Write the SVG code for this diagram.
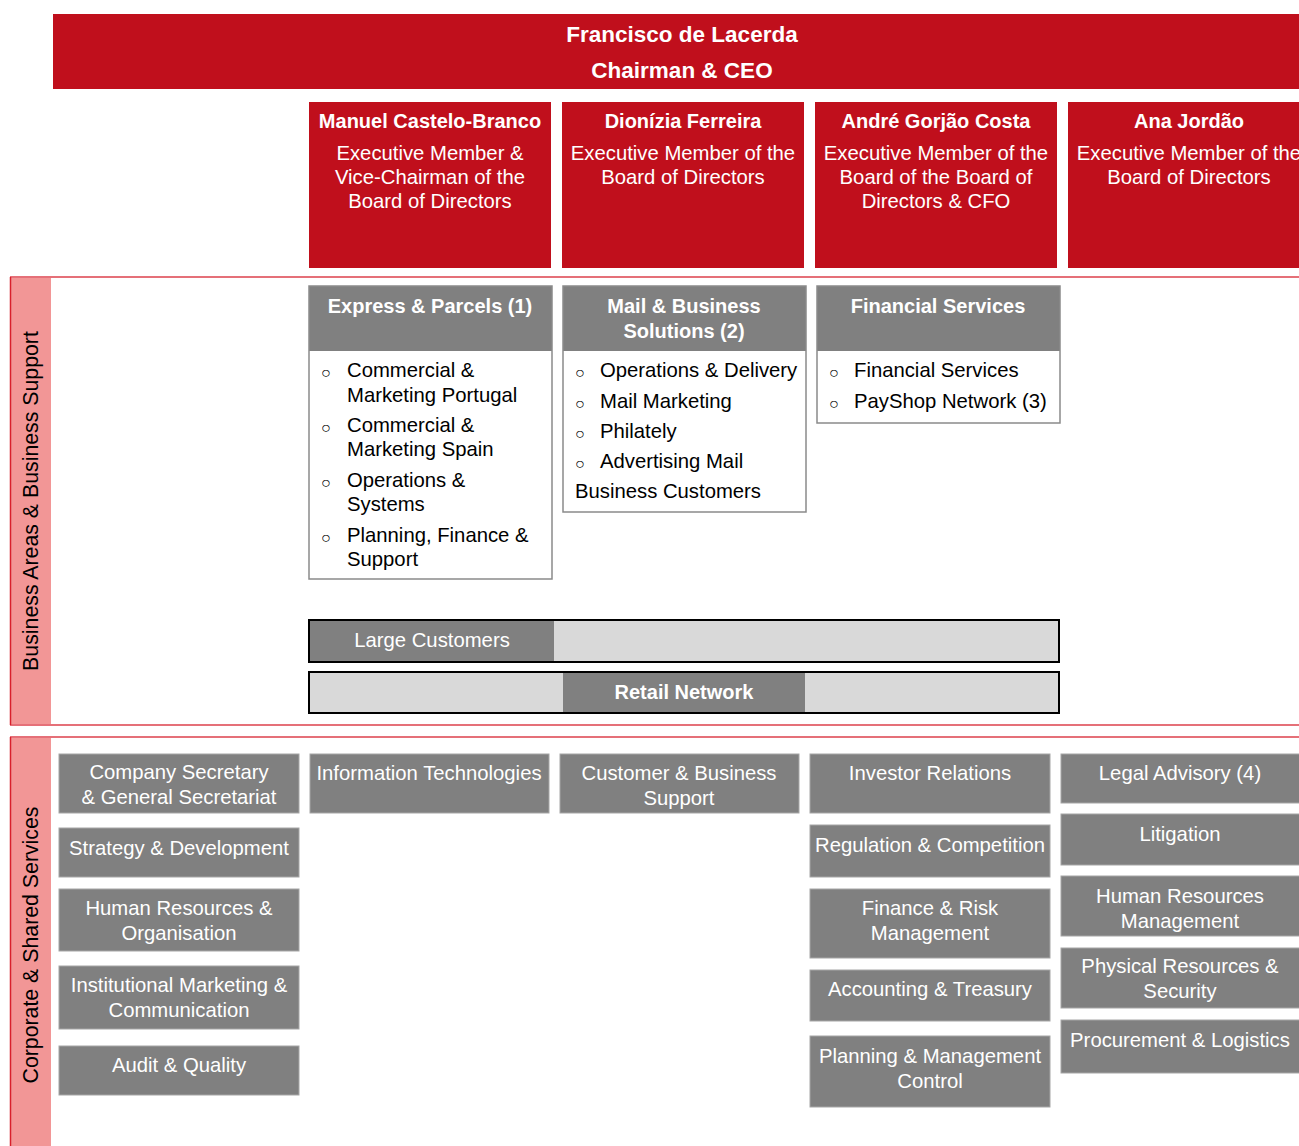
<svg xmlns="http://www.w3.org/2000/svg" width="1299" height="1146" viewBox="0 0 1299 1146">
<style>
text{font-family:"Liberation Sans",Arial,sans-serif;}
.red{fill:#C00F1C;}
.wt{fill:#fff;font-size:20.3px;text-anchor:middle;}
.wb{fill:#fff;font-size:20px;font-weight:bold;text-anchor:middle;}
.bk{fill:#000;font-size:20.3px;}
.bul{fill:#000;font-size:16px;}
.hdr{fill:#808080;}
.box{fill:none;stroke:#8a8a8a;stroke-width:1.5;}
.gb{fill:#808080;stroke:#a6a6a6;stroke-width:1;}
.sec{fill:none;stroke:#E57078;stroke-width:2;}
.strip{fill:#F29696;}
.bar{fill:#D9D9D9;stroke:#000;stroke-width:2;}
</style>

<g id="sections">
  <rect class="strip" x="10" y="277" width="41" height="448"/>
  <line class="sec" x1="10" y1="277" x2="1299" y2="277"/>
  <line class="sec" x1="10" y1="725" x2="1299" y2="725"/>
  <line x1="10.5" y1="277" x2="10.5" y2="725" stroke="#D8202C" stroke-width="1.5"/>
  <text x="32" y="501" transform="rotate(-90 32 501)" text-anchor="middle" dominant-baseline="middle" style="font-size:21.3px;fill:#000">Business Areas &amp; Business Support</text>

  <rect class="strip" x="10" y="737" width="41" height="409"/>
  <line class="sec" x1="10" y1="737" x2="1299" y2="737"/>
  <line x1="10.5" y1="737" x2="10.5" y2="1146" stroke="#D8202C" stroke-width="1.5"/>
  <text x="32" y="945" transform="rotate(-90 32 945)" text-anchor="middle" dominant-baseline="middle" style="font-size:21.3px;fill:#000">Corporate &amp; Shared Services</text>
</g>

<g id="ceo">
  <rect class="red" x="53" y="14" width="1246" height="75"/>
  <text class="wb" x="682" y="42" style="font-size:22.5px">Francisco de Lacerda</text>
  <text class="wb" x="682" y="78" style="font-size:22.5px">Chairman &amp; CEO</text>
</g>

<g id="exec1">
  <rect class="red" x="309" y="102" width="242" height="166"/>
  <text class="wb" x="430" y="128">Manuel Castelo-Branco</text>
  <text class="wt" x="430" y="160">Executive Member &amp;</text>
  <text class="wt" x="430" y="184">Vice-Chairman of the</text>
  <text class="wt" x="430" y="208">Board of Directors</text>
</g>
<g id="exec2">
  <rect class="red" x="562" y="102" width="242" height="166"/>
  <text class="wb" x="683" y="128">Dionízia Ferreira</text>
  <text class="wt" x="683" y="160">Executive Member of the</text>
  <text class="wt" x="683" y="184">Board of Directors</text>
</g>
<g id="exec3">
  <rect class="red" x="815" y="102" width="242" height="166"/>
  <text class="wb" x="936" y="128">André Gorjão Costa</text>
  <text class="wt" x="936" y="160">Executive Member of the</text>
  <text class="wt" x="936" y="184">Board of the Board of</text>
  <text class="wt" x="936" y="208">Directors &amp; CFO</text>
</g>
<g id="exec4">
  <rect class="red" x="1068" y="102" width="242" height="166"/>
  <text class="wb" x="1189" y="128">Ana Jordão</text>
  <text class="wt" x="1189" y="160">Executive Member of the</text>
  <text class="wt" x="1189" y="184">Board of Directors</text>
</g>

<g id="express">
  <rect x="309" y="286" width="243" height="293" fill="#fff"/>
  <rect class="hdr" x="309" y="286" width="243" height="65"/>
  <rect class="box" x="309" y="286" width="243" height="293"/>
  <text class="wb" x="430" y="313">Express &amp; Parcels (1)</text>
  <text class="bul" x="321" y="378">○</text><text class="bk" x="347" y="377">Commercial &amp;</text>
  <text class="bk" x="347" y="402">Marketing Portugal</text>
  <text class="bul" x="321" y="433">○</text><text class="bk" x="347" y="432">Commercial &amp;</text>
  <text class="bk" x="347" y="456">Marketing Spain</text>
  <text class="bul" x="321" y="488">○</text><text class="bk" x="347" y="487">Operations &amp;</text>
  <text class="bk" x="347" y="511">Systems</text>
  <text class="bul" x="321" y="543">○</text><text class="bk" x="347" y="542">Planning,  Finance &amp;</text>
  <text class="bk" x="347" y="566">Support</text>
</g>

<g id="mail">
  <rect x="563" y="286" width="243" height="226" fill="#fff"/>
  <rect class="hdr" x="563" y="286" width="243" height="65"/>
  <rect class="box" x="563" y="286" width="243" height="226"/>
  <text class="wb" x="684" y="313">Mail &amp; Business</text>
  <text class="wb" x="684" y="338">Solutions (2)</text>
  <text class="bul" x="575" y="378">○</text><text class="bk" x="600" y="377">Operations &amp; Delivery</text>
  <text class="bul" x="575" y="409">○</text><text class="bk" x="600" y="408">Mail Marketing</text>
  <text class="bul" x="575" y="439">○</text><text class="bk" x="600" y="438">Philately</text>
  <text class="bul" x="575" y="469">○</text><text class="bk" x="600" y="468">Advertising Mail</text>
  <text class="bk" x="575" y="498">Business Customers</text>
</g>

<g id="financial">
  <rect x="817" y="286" width="243" height="137" fill="#fff"/>
  <rect class="hdr" x="817" y="286" width="243" height="65"/>
  <rect class="box" x="817" y="286" width="243" height="137"/>
  <text class="wb" x="938" y="313">Financial Services</text>
  <text class="bul" x="829" y="378">○</text><text class="bk" x="854" y="377">Financial Services</text>
  <text class="bul" x="829" y="409">○</text><text class="bk" x="854" y="408">PayShop Network (3)</text>
</g>

<g id="large-customers">
  <rect class="bar" x="309" y="620" width="750" height="42"/>
  <rect class="hdr" x="310" y="621" width="244" height="40"/>
  <text class="wt" x="432" y="647">Large Customers</text>
</g>
<g id="retail-network">
  <rect class="bar" x="309" y="672" width="750" height="41"/>
  <rect class="hdr" x="563" y="673" width="242" height="39"/>
  <text class="wb" x="684" y="699">Retail Network</text>
</g>

<g id="company-secretary"><rect class="gb" x="59" y="754" width="240" height="59"/><text class="wt" x="179" y="779">Company Secretary</text><text class="wt" x="179" y="804">&amp; General Secretariat</text></g>
<g id="strategy"><rect class="gb" x="59" y="828" width="240" height="49"/><text class="wt" x="179" y="855">Strategy &amp; Development</text></g>
<g id="hr-org"><rect class="gb" x="59" y="889" width="240" height="62"/><text class="wt" x="179" y="915">Human Resources &amp;</text><text class="wt" x="179" y="940">Organisation</text></g>
<g id="inst-marketing"><rect class="gb" x="59" y="966" width="240" height="63"/><text class="wt" x="179" y="992">Institutional Marketing &amp;</text><text class="wt" x="179" y="1017">Communication</text></g>
<g id="audit"><rect class="gb" x="59" y="1046" width="240" height="49"/><text class="wt" x="179" y="1072">Audit &amp; Quality</text></g>

<g id="it"><rect class="gb" x="310" y="754" width="239" height="59"/><text class="wt" x="429" y="780">Information Technologies</text></g>
<g id="customer-support"><rect class="gb" x="560" y="754" width="239" height="59"/><text class="wt" x="679" y="780">Customer &amp; Business</text><text class="wt" x="679" y="805">Support</text></g>

<g id="investor"><rect class="gb" x="810" y="754" width="240" height="59"/><text class="wt" x="930" y="780">Investor Relations</text></g>
<g id="regulation"><rect class="gb" x="810" y="825" width="240" height="52"/><text class="wt" x="930" y="852">Regulation &amp; Competition</text></g>
<g id="finance-risk"><rect class="gb" x="810" y="889" width="240" height="69"/><text class="wt" x="930" y="915">Finance &amp; Risk</text><text class="wt" x="930" y="940">Management</text></g>
<g id="accounting"><rect class="gb" x="810" y="970" width="240" height="51"/><text class="wt" x="930" y="996">Accounting &amp; Treasury</text></g>
<g id="planning"><rect class="gb" x="810" y="1036" width="240" height="71"/><text class="wt" x="930" y="1063">Planning &amp; Management</text><text class="wt" x="930" y="1088">Control</text></g>

<g id="legal"><rect class="gb" x="1061" y="754" width="240" height="49"/><text class="wt" x="1180" y="780">Legal Advisory (4)</text></g>
<g id="litigation"><rect class="gb" x="1061" y="814" width="240" height="51"/><text class="wt" x="1180" y="841">Litigation</text></g>
<g id="hr-mgmt"><rect class="gb" x="1061" y="876" width="240" height="60"/><text class="wt" x="1180" y="903">Human Resources</text><text class="wt" x="1180" y="928">Management</text></g>
<g id="physical"><rect class="gb" x="1061" y="948" width="240" height="60"/><text class="wt" x="1180" y="973">Physical Resources &amp;</text><text class="wt" x="1180" y="998">Security</text></g>
<g id="procurement"><rect class="gb" x="1061" y="1020" width="240" height="53"/><text class="wt" x="1180" y="1047">Procurement &amp; Logistics</text></g>

<g id="connectors"></g>
</svg>
